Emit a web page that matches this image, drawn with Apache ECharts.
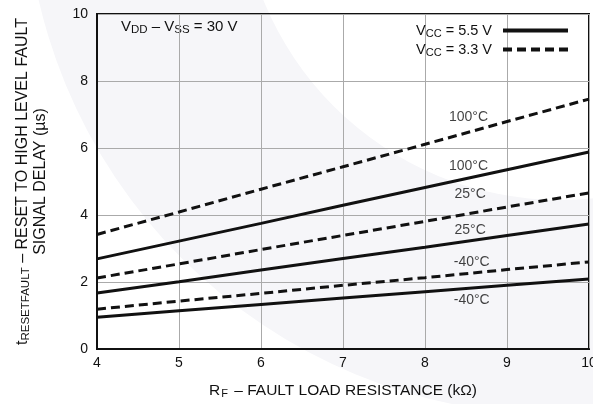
<!DOCTYPE html>
<html>
<head>
<meta charset="utf-8">
<script src="https://cdn.jsdelivr.net/npm/echarts@6/dist/echarts.min.js"></script>
<style>
  html, body { margin: 0; padding: 0; background: #fff; }
  #chart { width: 593px; height: 404px; }
</style>
</head>
<body>
<div id="chart"></div>
<script>
  // R_F (kΩ)
  var resistance = [4, 5, 6, 7, 8, 9, 10];
  // delay in µs
  var vcc55_100 = [2.69, 3.22, 3.75, 4.29, 4.82, 5.35, 5.88];
  var vcc33_100 = [3.42, 4.09, 4.77, 5.44, 6.11, 6.79, 7.46];
  var vcc55_25 = [1.67, 2.01, 2.36, 2.70, 3.04, 3.39, 3.73];
  var vcc33_25 = [2.12, 2.54, 2.97, 3.39, 3.81, 4.24, 4.66];
  var vcc55_m40 = [0.95, 1.14, 1.33, 1.52, 1.71, 1.90, 2.09];
  var vcc33_m40 = [1.19, 1.43, 1.66, 1.90, 2.13, 2.37, 2.60];
  // curve labels [x, y, text]
  var curveLabels = [
    [8.53, 6.93, '100°C'],
    [8.53, 5.46, '100°C'],
    [8.55, 4.63, '25°C'],
    [8.55, 3.55, '25°C'],
    [8.57, 2.60, '-40°C'],
    [8.57, 1.46, '-40°C']
  ];

  var font = 'Liberation Sans, Arial, Helvetica, sans-serif';

  function pairs(ys) {
    return resistance.map(function (x, i) { return [x, ys[i]]; });
  }

  function mkSeries(name, ys, dashed) {
    return {
      name: name,
      type: 'line',
      data: pairs(ys),
      symbol: 'none',
      silent: true,
      itemStyle: { color: '#111' },
      lineStyle: { color: '#111', width: 3, type: dashed ? [9, 5] : 'solid' }
    };
  }

  var series = [
    mkSeries('5.5', vcc55_100, false),
    mkSeries('3.3', vcc33_100, true),
    mkSeries('5.5', vcc55_25, false),
    mkSeries('3.3', vcc33_25, true),
    mkSeries('5.5', vcc55_m40, false),
    mkSeries('3.3', vcc33_m40, true)
  ];
  series.push({
    type: 'scatter',
    symbolSize: 0,
    silent: true,
    data: curveLabels.map(function (d) { return { value: [d[0], d[1]], name: d[2] }; }),
    label: {
      show: true,
      position: 'inside',
      formatter: function (p) { return p.name; },
      color: '#111',
      fontSize: 14,
      fontFamily: font
    }
  });

  var chart = echarts.init(document.getElementById('chart'));
  chart.setOption({
    animation: false,
    backgroundColor: '#fff',
    grid: {
      left: 97, right: 4, top: 14, bottom: 55,
      outerBoundsMode: 'none',
      show: true, borderColor: '#111', borderWidth: 2
    },
    legend: {
      data: ['5.5', '3.3'],
      orient: 'vertical',
      right: 18,
      top: 18,
      align: 'right',
      itemWidth: 65,
      itemHeight: 14,
      itemGap: 3,
      itemStyle: { opacity: 0 },
      lineStyle: { width: 4 },
      formatter: function (n) { return '{v|V}{s|CC}{e| = ' + n + ' V}'; },
      textStyle: {
        rich: {
          v: { fontSize: 14.5, fontFamily: font, color: '#111' },
          e: { fontSize: 14.5, fontFamily: font, color: '#111', padding: [0, 6, 0, 0] },
          s: { fontSize: 11, fontFamily: font, color: '#111', padding: [6, 0, 0, 0] }
        }
      }
    },
    graphic: [{
      type: 'ring',
      z: -10,
      silent: true,
      shape: { cx: 560, cy: -120, r: 535, r0: 320 },
      style: { fill: '#f6f6f9' }
    }, {
      type: 'text',
      left: 121,
      top: 19,
      style: {
        text: '{v|V}{s|DD}{v| – V}{s|SS}{v| = 30 V}',
        rich: {
          v: { fontSize: 15, fontFamily: font, fill: '#111' },
          s: { fontSize: 11.5, fontFamily: font, fill: '#111', padding: [6, 0, 0, 0] }
        }
      }
    }],
    xAxis: {
      type: 'value',
      min: 4, max: 10, interval: 1,
      name: '{v|R}{s|F}{v| – FAULT LOAD RESISTANCE (kΩ)}',
      nameLocation: 'middle',
      nameGap: 33,
      nameTextStyle: {
        rich: {
          v: { fontSize: 15.5, fontFamily: font, color: '#111' },
          s: { fontSize: 11, fontFamily: font, color: '#111', padding: [6, 2, 0, 1] }
        }
      },
      axisLine: { show: true, lineStyle: { color: '#111', width: 2 } },
      axisTick: { show: false },
      axisLabel: { color: '#111', fontSize: 14, fontFamily: font, margin: 7 },
      splitLine: { show: true, lineStyle: { color: '#aaa', width: 1 } }
    },
    yAxis: {
      type: 'value',
      min: 0, max: 10, interval: 2,
      name: '{v|t}{s|RESETFAULT}{v| – RESET TO HIGH LEVEL FAULT}\n{v|SIGNAL DELAY (µs)}',
      nameLocation: 'middle',
      nameRotate: 90,
      nameGap: 47,
      nameTextStyle: {
        align: 'center',
        lineHeight: 18,
        rich: {
          v: { fontSize: 16, fontFamily: font, color: '#111', lineHeight: 18 },
          s: { fontSize: 11.5, fontFamily: font, color: '#111', lineHeight: 18, padding: [6, 0, 0, 0] }
        }
      },
      axisLine: { show: true, lineStyle: { color: '#111', width: 2 } },
      axisTick: { show: false },
      axisLabel: { color: '#111', fontSize: 14, fontFamily: font, margin: 9 },
      splitLine: { show: true, lineStyle: { color: '#aaa', width: 1 } }
    },
    series: series
  });
</script>
</body>
</html>
